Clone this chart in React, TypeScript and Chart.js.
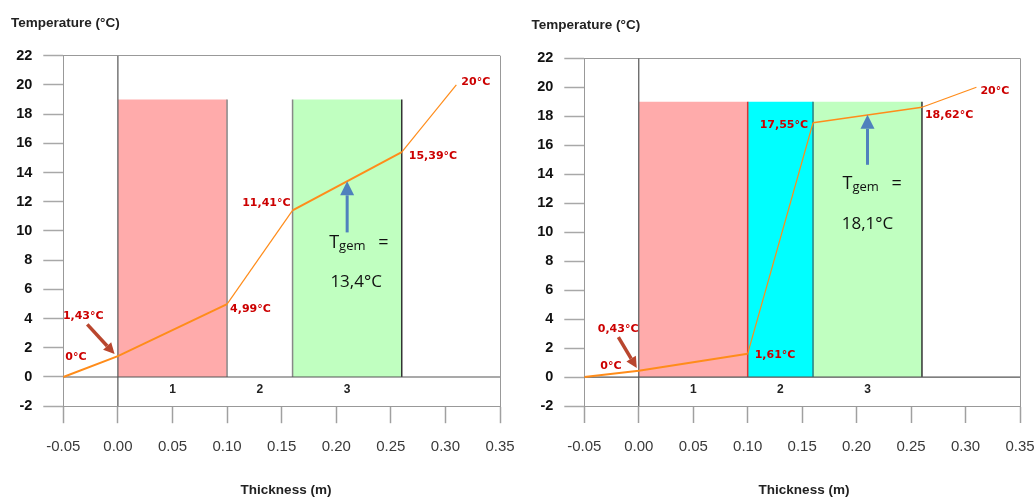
import React, { useEffect, useRef } from "react";
import { Chart, registerables } from "chart.js";

Chart.register(...registerables);

// ---------------- data ----------------
const thickness = [-0.05, 0.0, 0.1, 0.16, 0.26, 0.31];
const temperaturesA = [0, 1.43, 4.99, 11.41, 15.39, 20];
const temperaturesB = [0, 0.43, 1.61, 17.55, 18.62, 20];
const pointLabelsA = ["0°C", "1,43°C", "4,99°C", "11,41°C", "15,39°C", "20°C"];
const pointLabelsB = ["0°C", "0,43°C", "1,61°C", "17,55°C", "18,62°C", "20°C"];
const layerBounds = [0, 0.1, 0.16, 0.26];
const layerNames = ["1", "2", "3"];
const layerTop = [19, 19, 19];
const tgemA = 13.4;
const tgemB = 18.1;
const tgemTextA = "13,4°C";
const tgemTextB = "18,1°C";
const tgemX = 0.21;
const xTickMin = -0.05;
const xTickMax = 0.35;
const xTickStep = 0.05;
const yTickMin = -2;
const yTickMax = 22;
const yTickStep = 2;
const xTitle = "Thickness (m)";
const yTitle = "Temperature (°C)";

// ---------------- layout / style ----------------
const CW = 560;
const CH = 498;
const LABEL_FONT = 'bold 11px "DejaVu Sans"';
const LABEL_COLOR = "#cc0000";
const LINE_COLOR = "#ff8c1a";

type Align = "left" | "right";
type PanelCfg = {
  temps: number[];
  labels: string[];
  tgem: number;
  tgemText: string;
  layerColors: (string | null)[];
  boundColors: string[];
  segWidths: number[];
  area: { left: number; right: number; top: number; bottom: number };
  labelOffsets: [number, number, Align][];
  brownArrow: [number, number, number, number];
  arrowBase: number;
  tBaseline: number;
  valBaseline: number;
  tDx: number;
  eqDx: number;
  valDx: number;
  yTitlePos: [number, number];
  xTitlePos: [number, number];
};

const panelA: PanelCfg = {
  temps: temperaturesA,
  labels: pointLabelsA,
  tgem: tgemA,
  tgemText: tgemTextA,
  layerColors: ["#ffabab", null, "#c0ffc0"],
  boundColors: ["#555555", "#888888", "#888888", "#333333"],
  segWidths: [2, 2, 1.2, 2, 1.2],
  area: { left: 63.3, right: 500, top: 55.7, bottom: 406.2 },
  labelOffsets: [
    [2, -20, "left"],
    [-55, -40, "left"],
    [3, 5, "left"],
    [-2, -7, "right"],
    [7, 4, "left"],
    [5, -3, "left"],
  ],
  brownArrow: [-30.6, -31.7, -3.3, -2],
  arrowBase: 9.9,
  tBaseline: 8.8,
  valBaseline: 6.14,
  tDx: -18,
  eqDx: 31,
  valDx: 9,
  yTitlePos: [11, 23],
  xTitlePos: [286, 490],
};

const panelB: PanelCfg = {
  temps: temperaturesB,
  labels: pointLabelsB,
  tgem: tgemB,
  tgemText: tgemTextB,
  layerColors: ["#ffabab", "#00ffff", "#c0ffc0"],
  boundColors: ["#555555", "#dd3333", "#2a7f7f", "#333333"],
  segWidths: [2, 2, 1.2, 1.5, 1.2],
  area: { left: 66.3, right: 502, top: 58.3, bottom: 406 },
  labelOffsets: [
    [16, -11, "left"],
    [-41, -42, "left"],
    [7, 1, "left"],
    [-5, 2, "right"],
    [3, 8, "left"],
    [4, 4, "left"],
  ],
  brownArrow: [-20.4, -33.7, -2, -2.7],
  arrowBase: 14.65,
  tBaseline: 12.95,
  valBaseline: 10.2,
  tDx: -25,
  eqDx: 24,
  valDx: 0,
  yTitlePos: [13.5, 25],
  xTitlePos: [286, 490],
};

function drawArrow(
  ctx: CanvasRenderingContext2D,
  x0: number,
  y0: number,
  x1: number,
  y1: number,
  color: string,
  shaft: number,
  headLen: number,
  headW: number
) {
  const ang = Math.atan2(y1 - y0, x1 - x0);
  const bx = x1 - Math.cos(ang) * headLen;
  const by = y1 - Math.sin(ang) * headLen;
  ctx.strokeStyle = color;
  ctx.fillStyle = color;
  ctx.lineWidth = shaft;
  ctx.lineCap = "butt";
  ctx.beginPath();
  ctx.moveTo(x0, y0);
  ctx.lineTo(bx, by);
  ctx.stroke();
  const px = -Math.sin(ang) * (headW / 2);
  const py = Math.cos(ang) * (headW / 2);
  ctx.beginPath();
  ctx.moveTo(x1, y1);
  ctx.lineTo(bx + px, by + py);
  ctx.lineTo(bx - px, by - py);
  ctx.closePath();
  ctx.fill();
}

function makePlugin(cfg: PanelCfg) {
  return {
    id: "annotations",
    afterDatasetsDraw(chart: any) {
      const ctx: CanvasRenderingContext2D = chart.ctx;
      const xs = chart.scales.x;
      const ys = chart.scales.y;
      ctx.save();

      // layer numbers
      ctx.font = 'bold 12px "Liberation Sans"';
      ctx.fillStyle = "#222222";
      ctx.textAlign = "center";
      ctx.textBaseline = "middle";
      layerNames.forEach((n, i) => {
        const cx = xs.getPixelForValue((layerBounds[i] + layerBounds[i + 1]) / 2);
        ctx.fillText(n, cx, ys.getPixelForValue(-0.9));
      });

      // point labels
      ctx.font = LABEL_FONT;
      ctx.fillStyle = LABEL_COLOR;
      ctx.textBaseline = "middle";
      cfg.labels.forEach((t, i) => {
        const px = xs.getPixelForValue(thickness[i]);
        const py = ys.getPixelForValue(cfg.temps[i]);
        const [dx, dy, al] = cfg.labelOffsets[i];
        ctx.textAlign = al;
        ctx.fillText(t, px + dx, py + dy);
      });

      // brown arrow to point 1
      const p1x = xs.getPixelForValue(thickness[1]);
      const p1y = ys.getPixelForValue(cfg.temps[1]);
      const [a0, a1, a2, a3] = cfg.brownArrow;
      drawArrow(ctx, p1x + a0, p1y + a1, p1x + a2, p1y + a3, "#b9462e", 3.5, 11, 11);

      // blue arrow to Tgem
      const ax = xs.getPixelForValue(tgemX);
      drawArrow(
        ctx,
        ax,
        ys.getPixelForValue(cfg.arrowBase),
        ax,
        ys.getPixelForValue(cfg.tgem),
        "#4f81bd",
        3,
        14,
        14
      );

      // Tgem text
      ctx.fillStyle = "#111111";
      ctx.textBaseline = "alphabetic";
      ctx.textAlign = "left";
      const tb = ys.getPixelForValue(cfg.tBaseline);
      ctx.font = '18px "Open Sans"';
      ctx.fillText("T", ax + cfg.tDx, tb);
      const tw = ctx.measureText("T").width;
      ctx.font = '13px "Open Sans"';
      ctx.fillText("gem", ax + cfg.tDx + tw, tb + 2);
      ctx.font = '18px "Open Sans"';
      ctx.fillText("=", ax + cfg.eqDx, tb);
      ctx.textAlign = "center";
      ctx.font = '17px "Open Sans"';
      ctx.fillText(cfg.tgemText, ax + cfg.valDx, ys.getPixelForValue(cfg.valBaseline));

      // axis titles
      ctx.fillStyle = "#222222";
      ctx.textBaseline = "middle";
      ctx.textAlign = "left";
      ctx.font = 'bold 13.5px "Liberation Sans"';
      ctx.fillText(yTitle, cfg.yTitlePos[0], cfg.yTitlePos[1]);
      ctx.textAlign = "center";
      ctx.fillText(xTitle, cfg.xTitlePos[0], cfg.xTitlePos[1]);

      ctx.restore();
    },
  };
}

function near(a: number, b: number) {
  return Math.abs(a - b) < 1e-6;
}

function ChartPanel({ cfg }: { cfg: PanelCfg }) {
  const ref = useRef<HTMLCanvasElement>(null);
  useEffect(() => {
    const datasets: any[] = [];
    // layer fills
    cfg.layerColors.forEach((c, i) => {
      if (!c) return;
      datasets.push({
        data: [
          { x: layerBounds[i], y: layerTop[i] },
          { x: layerBounds[i + 1], y: layerTop[i] },
        ],
        showLine: true,
        borderWidth: 0,
        borderColor: "rgba(0,0,0,0)",
        backgroundColor: c,
        pointRadius: 0,
        fill: "origin",
        order: 6,
      });
    });
    // layer boundary lines
    layerBounds.forEach((b, j) => {
      if (j === 0) return;
      datasets.push({
        data: [
          { x: b, y: 0 },
          { x: b, y: layerTop[Math.min(j, layerTop.length) - 1] },
        ],
        showLine: true,
        borderWidth: 1.5,
        borderColor: cfg.boundColors[j],
        pointRadius: 0,
        fill: false,
        order: 4,
      });
    });
    // axis cross lines (x = 0 and y = 0)
    datasets.push({
      data: [
        { x: 0, y: yTickMin },
        { x: 0, y: yTickMax },
      ],
      showLine: true,
      borderWidth: 1.2,
      borderColor: cfg.boundColors[0],
      pointRadius: 0,
      fill: false,
      order: 3,
    });
    datasets.push({
      data: [
        { x: xTickMin, y: 0 },
        { x: xTickMax, y: 0 },
      ],
      showLine: true,
      borderWidth: 1.2,
      borderColor: "#555555",
      pointRadius: 0,
      fill: false,
      order: 3,
    });
    // temperature line
    datasets.push({
      data: thickness.map((t, i) => ({ x: t, y: cfg.temps[i] })),
      showLine: true,
      borderColor: LINE_COLOR,
      borderWidth: 1.5,
      segment: { borderWidth: (c: any) => cfg.segWidths[c.p0DataIndex] },
      pointRadius: 0,
      fill: false,
      order: 1,
    });

    const chart = new Chart(ref.current!, {
      type: "scatter",
      data: { datasets },
      options: {
        animation: false,
        responsive: false,
        events: [],
        layout: {
          padding: { left: 0, top: cfg.area.top, right: CW - cfg.area.right, bottom: 0 },
        },
        plugins: {
          legend: { display: false },
          tooltip: { enabled: false },
        },
        scales: {
          x: {
            type: "linear",
            min: xTickMin,
            max: xTickMax,
            afterFit: (s: any) => {
              s.height = CH - cfg.area.bottom;
            },
            ticks: {
              stepSize: xTickStep,
              callback: (v: any) => {
                const n = Number(v);
                return (Math.abs(n) < 1e-9 ? 0 : n).toFixed(2);
              },
              font: { family: "Liberation Sans", size: 15 },
              color: "#3a3a3a",
              padding: 15,
              maxRotation: 0,
              autoSkip: false,
            },
            grid: {
              drawOnChartArea: true,
              color: (c: any) => (c.tick && near(c.tick.value, xTickMax) ? "#999999" : "rgba(0,0,0,0)"),
              tickColor: "#a0a0a0",
              tickLength: 17,
              tickWidth: 1.5,
            },
            border: { color: "#999999", width: 1 },
          },
          y: {
            type: "linear",
            min: yTickMin,
            max: yTickMax,
            afterFit: (s: any) => {
              s.width = cfg.area.left;
            },
            ticks: {
              stepSize: yTickStep,
              font: { family: "Liberation Sans", size: 14.5, weight: "bold" },
              color: "#111111",
              padding: 11,
              autoSkip: false,
            },
            grid: {
              drawOnChartArea: true,
              color: (c: any) => (c.tick && near(c.tick.value, yTickMax) ? "#999999" : "rgba(0,0,0,0)"),
              tickColor: "#a8a8a8",
              tickLength: 20,
              tickWidth: 1.5,
            },
            border: { color: "#999999", width: 1 },
          },
        },
      } as any,
      plugins: [makePlugin(cfg)],
    });
    return () => chart.destroy();
  }, [cfg]);
  return <canvas ref={ref} width={CW} height={CH} style={{ display: "block" }} />;
}

export default function App() {
  return (
    <div
      style={{
        position: "fixed",
        left: 0,
        top: 0,
        width: 1035,
        height: 498,
        overflow: "hidden",
        background: "#ffffff",
      }}
    >
      <div style={{ position: "absolute", left: 0, top: 0, width: 518, height: 498, overflow: "hidden" }}>
        <ChartPanel cfg={panelA} />
      </div>
      <div style={{ position: "absolute", left: 518, top: 0, width: 517, height: 498, overflow: "hidden" }}>
        <ChartPanel cfg={panelB} />
      </div>
    </div>
  );
}
